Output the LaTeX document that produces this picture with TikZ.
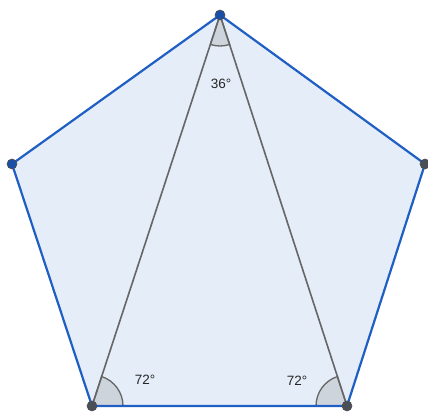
\documentclass[tikz,border=0pt]{standalone}
\usepackage{fontspec}
\setmainfont{Liberation Sans}
\definecolor{edgeblue}{HTML}{1F5FC4}
\definecolor{fillblue}{HTML}{E4EDF8}
\definecolor{diag}{HTML}{666666}
\definecolor{sect}{HTML}{C9CED4}
\definecolor{dotblue}{HTML}{1A4FA8}
\definecolor{dotgray}{HTML}{4A4F57}
\tikzset{
  edge/.style={draw=edgeblue, line width=2.2pt, line join=round},
  diagline/.style={draw=diag, line width=1.6pt},
  sector/.style={fill=sect, fill opacity=0.8, draw=diag, line width=1.3pt},
  vdot/.style={circle, inner sep=0pt, minimum size=10pt, draw=black!70, line width=0.6pt},
  lab/.style={font=\fontsize{13.5}{16}\selectfont, text=black!85}
}
\begin{document}
\begin{tikzpicture}[x=1pt,y=1pt]
\useasboundingbox (0,0) rectangle (428,417);
\coordinate (T) at (220,402);
\coordinate (L) at (12,253);
\coordinate (R) at (425,253);
\coordinate (BL) at (92,11);
\coordinate (BR) at (347,11);
% pentagon fill
\fill[fillblue] (T) -- (R) -- (BR) -- (BL) -- (L) -- cycle;
% angle sectors
\path[sector] (BL) -- ++(0:31) arc[start angle=0, end angle=71.9, radius=31] -- cycle;
\path[sector] (BR) -- ++(108.1:31) arc[start angle=108.1, end angle=180, radius=31] -- cycle;
\path[sector] (T) -- ++(251.9:31) arc[start angle=251.9, end angle=288.1, radius=31] -- cycle;
% diagonals
\draw[diagline] (T) -- (BL);
\draw[diagline] (T) -- (BR);
% edges
\draw[edge] (T) -- (R) -- (BR) -- (BL) -- (L) -- cycle;
% vertices
\node[vdot, fill=dotblue] (vT) at (T) {};
\node[vdot, fill=dotblue] (vL) at (L) {};
\node[vdot, fill=dotgray] (vR) at (R) {};
\node[vdot, fill=dotgray] (vBL) at (BL) {};
\node[vdot, fill=dotgray] (vBR) at (BR) {};
% labels
\node[lab] (a36) at (221,333) {36°};
\node[lab] (a72l) at (145,37) {72°};
\node[lab] (a72r) at (297,36) {72°};
\end{tikzpicture}
\end{document}
